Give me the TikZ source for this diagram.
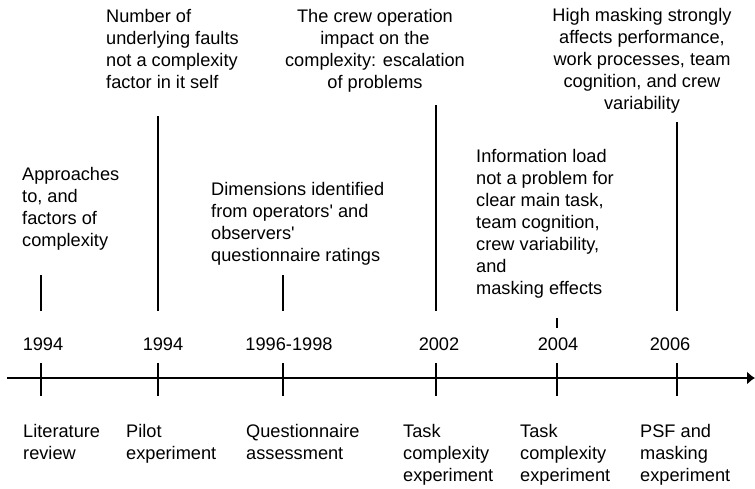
\documentclass[tikz,border=0pt]{standalone}
\usepackage{fontspec}
\setmainfont{Liberation Sans}
\usetikzlibrary{arrows.meta}
\begin{document}
\begin{tikzpicture}[x=1pt,y=-1pt,
  txt/.style={font=\fontsize{18.2}{22}\selectfont,inner sep=0pt},
  ltxt/.style={txt,anchor=north west,align=left},
  ctxt/.style={txt,anchor=north,align=center},
  yr/.style={txt,anchor=base},
  ln/.style={line width=1.3pt,black}]
\useasboundingbox (0,0) rectangle (755,488);
% axis
\coordinate (ax0) at (7,378);
\coordinate (ax1) at (755,378);
\draw[ln,-{Latex[length=8pt,width=13pt]}] (ax0) -- (ax1);
% ticks
\foreach \n/\x in {t1/41,t2/158,t3/283,t4/436,t5/557,t6/677}{
  \coordinate (\n a) at (\x,363);
  \coordinate (\n b) at (\x,396);
  \draw[ln] (\n a) -- (\n b);
}
% upper lines
\coordinate (u1a) at (41,275);  \coordinate (u1b) at (41,311);
\coordinate (u2a) at (158,116); \coordinate (u2b) at (158,311);
\coordinate (u3a) at (283,275); \coordinate (u3b) at (283,311);
\coordinate (u4a) at (436,105); \coordinate (u4b) at (436,311);
\coordinate (u5a) at (557,318); \coordinate (u5b) at (557,328);
\coordinate (u6a) at (677,122); \coordinate (u6b) at (677,311);
\foreach \n in {u1,u2,u3,u4,u5,u6}{\draw[ln] (\n a) -- (\n b);}
% years
\node[yr] (y1) at (43,350) {1994};
\node[yr] (y2) at (163,350) {1994};
\node[yr] (y3) at (289,350) {1996-1998};
\node[yr] (y4) at (439,350) {2002};
\node[yr] (y5) at (558,350) {2004};
\node[yr] (y6) at (670,350) {2006};
% bottom labels
\node[ltxt] (b1) at (23,422) {\strut Literature\\review};
\node[ltxt] (b2) at (126,422) {\strut Pilot\\experiment};
\node[ltxt] (b3) at (246,422) {\strut Questionnaire\\assessment};
\node[ltxt] (b4) at (403,422) {\strut Task\\complexity\\experiment};
\node[ltxt] (b5) at (520,422) {\strut Task\\complexity\\experiment};
\node[ltxt] (b6) at (640,422) {\strut PSF and\\masking\\experiment};
% top texts
\node[ltxt] (a1) at (22,165) {\strut Approaches\\to, and\\factors of\\complexity};
\node[ltxt] (a2) at (106,7) {\strut Number of\\underlying faults\\not a complexity\\factor in it self};
\node[ctxt] (a3) at (375,7) {\strut The crew operation\\impact on the\\complexity: escalation\\of problems};
\node[ltxt] (a4) at (211,180) {\strut Dimensions identified\\from operators\textquotesingle{} and\\observers\textquotesingle\\questionnaire ratings};
\node[ltxt] (a5) at (476,147) {\strut Information load\\not a problem for\\clear main task,\\team cognition,\\crew variability,\\and\\masking effects};
\node[ctxt] (a6) at (642,6) {\strut High masking strongly\\affects performance,\\work processes, team\\cognition, and crew\\variability};
\end{tikzpicture}
\end{document}
